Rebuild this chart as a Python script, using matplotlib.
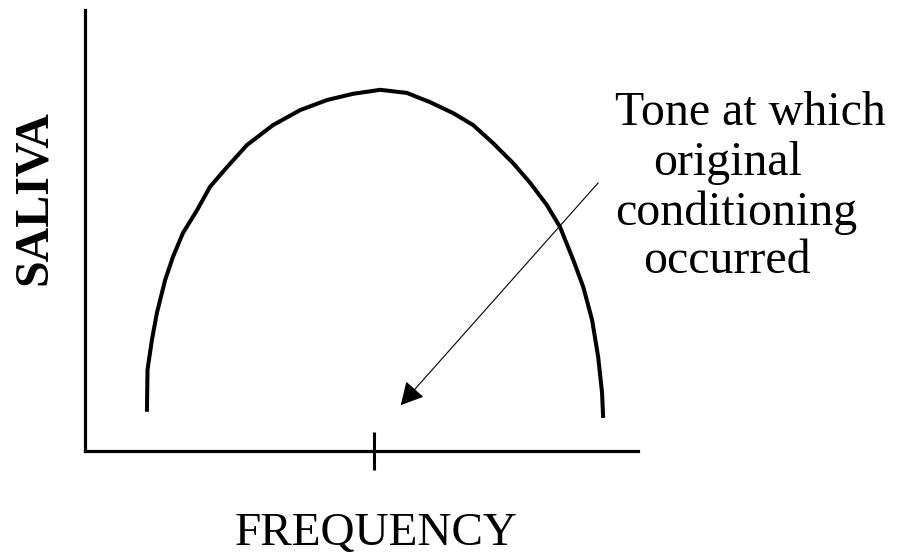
import numpy as np
import matplotlib
matplotlib.use("Agg")
import matplotlib.pyplot as plt

# generalization curve (axes run 0..100 both ways)
frequency = [11.2, 11.3, 12.1, 13.0, 14.5, 15.9, 17.7, 20.3, 22.6, 25.7, 29.3, 34.0, 38.9, 43.8, 48.5, 53.4,
             58.2, 62.4, 66.6, 70.2, 73.8, 77.4, 80.5, 83.5, 85.9, 88.3, 90.1, 91.7, 92.8, 93.5, 93.7]
saliva = [8.9, 18.4, 25.2, 31.3, 38.8, 44.0, 49.4, 54.7, 59.9, 64.4, 69.4, 73.9, 77.3, 79.6, 81.0, 81.9,
          81.2, 79.1, 76.6, 73.9, 69.8, 65.3, 60.8, 55.8, 50.8, 43.3, 37.2, 29.7, 21.3, 13.2, 7.5]
original_tone = 52.3
arrow_start = (92.8, 60.8)
arrow_end = (57.1, 10.4)
note_lines = ["Tone at which", "original", "conditioning", "occurred"]

plt.rcParams['font.family'] = ['Liberation Serif', 'DejaVu Serif']

fig = plt.figure(figsize=(8.98, 5.6), dpi=100)
ax = fig.add_axes([85/898, 109/560, 553/898, 441/560])
ax.set_xlim(0, 100)
ax.set_ylim(0, 100)

ax.plot(frequency, saliva, color='black', lw=2.9, solid_capstyle='butt', solid_joinstyle='round')

ax.annotate("", xy=arrow_end, xytext=arrow_start,
            arrowprops=dict(arrowstyle='-|>,head_length=1.4,head_width=0.75', color='black', lw=0.8,
                            shrinkA=0, shrinkB=0))

for s in ['top', 'right']:
    ax.spines[s].set_visible(False)
for s in ['left', 'bottom']:
    ax.spines[s].set_linewidth(2.3)
    ax.spines[s].set_capstyle('projecting')

ax.set_yticks([])
ax.set_xticks([original_tone])
ax.set_xticklabels([])
ax.tick_params(axis='x', direction='inout', length=28, width=2.2, color='black')

fig.text(34/898, 1 - 198/560, "SALIVA", rotation=90, ha='center', va='center',
         fontsize=34.5, fontweight='bold')
fig.text(376/898, 1 - 545/560, "FREQUENCY", ha='center', va='baseline', fontsize=34)

lefts = [615, 653, 615, 643]
bases = [125, 175, 225, 273]
for txt, lx, by in zip(note_lines, lefts, bases):
    fig.text(lx/898, 1 - by/560, txt, ha='left', va='baseline', fontsize=34.5)

fig.savefig("out.png", dpi=100)
